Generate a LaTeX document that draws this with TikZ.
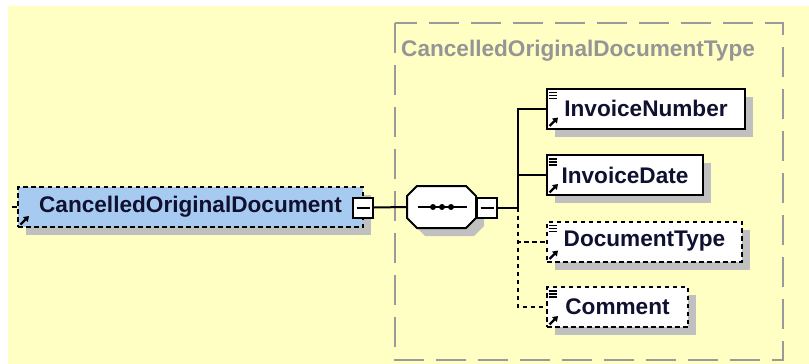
\documentclass[tikz,border=0pt]{standalone}
\usepackage{fontspec}
\setmainfont{Liberation Sans}
\usetikzlibrary{shadows,calc,arrows.meta}
\definecolor{bgyellow}{HTML}{FFFFC4}
\definecolor{elblue}{HTML}{A6CAF0}
\definecolor{shgray}{HTML}{C0C0C0}
\definecolor{framegray}{HTML}{9A9A9A}
\definecolor{titlegray}{HTML}{959595}
\definecolor{txtnavy}{HTML}{101030}
\newcommand\elfont{\fontsize{22.6}{26}\selectfont\bfseries}
\tikzset{
  elem/.style={draw=black, line width=2pt, fill=white, minimum height=40pt, inner sep=0pt,
    text=txtnavy, font=\elfont,
    general shadow={fill=shgray, shadow xshift=8pt, shadow yshift=-8pt}},
  optelem/.style={elem, dash pattern=on 4.5pt off 3.5pt},
  minusbox/.style={draw=black, line width=2pt, fill=white, minimum width=20pt, minimum height=20pt, inner sep=0pt},
  conn/.style={line width=2pt, draw=black},
  optconn/.style={conn, dash pattern=on 4.5pt off 3.5pt},
  listicon/.style={line width=1.2pt, draw=black},
  linkicon/.style={line width=2.2pt, draw=black, -{Triangle[length=5pt,width=6.5pt]}},
}
\newcommand\listico[1]{\draw[listicon] ($(#1.north west)+(2.5,5)$) -- ++(8,0)
  ($(#1.north west)+(2.5,8)$) -- ++(8,0) ($(#1.north west)+(2.5,11)$) -- ++(8,0);}
\newcommand\linkico{}
\renewcommand\linkico[1]{\draw[linkicon] ($(#1.south west)+(3.5,-3.5)$) -- ($(#1.south west)+(12,-12)$);}
\newcommand\minusmark[1]{\draw[line width=2pt] ($(#1.center)+(-6.5,0)$) -- ($(#1.center)+(6.5,0)$);}
\begin{document}
\begin{tikzpicture}[x=1pt,y=-1pt]
\useasboundingbox (0,0) rectangle (809,364);
\fill[white] (0,0) rectangle (809,364);
\fill[bgyellow] (8,6) rectangle (809,364);
% type frame
\draw[framegray, line width=2.2pt, dash pattern=on 30pt off 12pt] (395,23) rectangle (783,360);
\node[anchor=west, inner sep=0pt, text=titlegray, font=\elfont] (title) at (401,51) {CancelledOriginalDocumentType};
% main element
\node[optelem, fill=elblue, minimum width=345pt] (main) at (190.5,207) {CancelledOriginalDocument\hspace{6pt}};
\linkico{main}
\node[minusbox] (mainm) at (363,207.5) {};
\minusmark{mainm}
% sequence compositor
\node[minimum width=69pt, minimum height=42pt, inner sep=0pt] (seq) at (441.5,207) {};
\fill[shgray, shift={(8,8)}] (417,186) -- (466,186) -- (476,196) -- (476,218) -- (466,228) -- (417,228) -- (407,218) -- (407,196) -- cycle;
\filldraw[fill=white, draw=black, line width=2pt] (417,186) -- (466,186) -- (476,196) -- (476,218) -- (466,228) -- (417,228) -- (407,218) -- (407,196) -- cycle;
\draw[line width=2pt] (418,207) -- (467,207);
\fill (433,207) circle (3pt) (442,207) circle (3pt) (451,207) circle (3pt);
\node[minusbox] (seqm) at (487,207.5) {};
\minusmark{seqm}
% children
\node[elem, minimum width=198pt] (inv) at (646,108.5) {InvoiceNumber};
\node[elem, minimum width=156pt] (date) at (625,175) {InvoiceDate};
\node[optelem, minimum width=195pt] (dtype) at (644.5,241.5) {DocumentType};
\node[optelem, minimum width=141pt] (comm) at (617.5,307) {Comment};
\foreach \n in {inv,date,dtype,comm}{\listico{\n}\linkico{\n}}
% connectors
\coordinate (stub) at (12,207);
\draw[conn] (stub) -- (main.west);
\draw[conn] (mainm.east) -- (seq.west);
\draw[conn] (seqm.east) -- ++(20,0) coordinate (bus);
\draw[conn] (bus) |- (inv.west);
\draw[conn] (bus) |- (date.west);
\draw[optconn] (bus) |- (dtype.west);
\draw[optconn] (bus) |- (comm.west);
\end{tikzpicture}
\end{document}
